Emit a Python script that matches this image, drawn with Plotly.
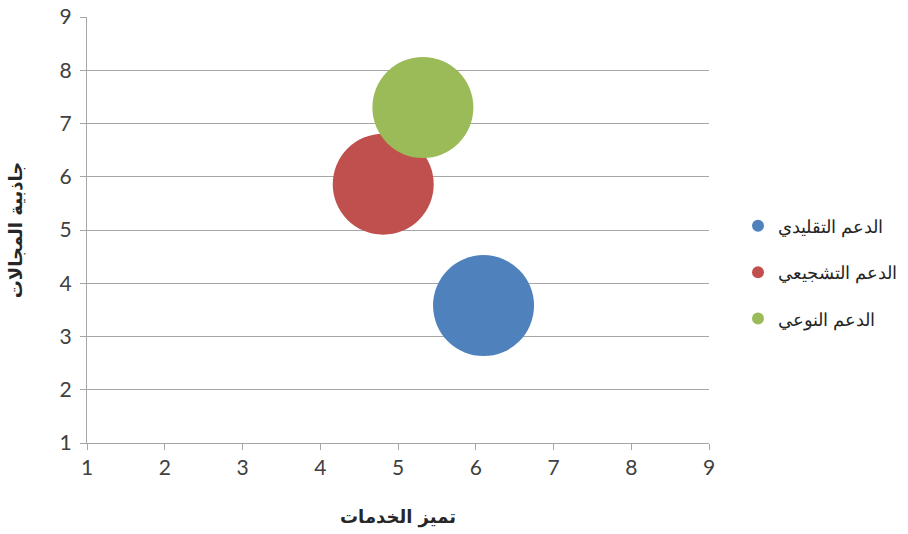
import plotly.graph_objects as go

series_names = ["الدعم التقليدي", "الدعم التشجيعي", "الدعم النوعي"]
x_values = [6.1, 4.81, 5.32]
y_values = [3.58, 5.86, 7.3]
bubble_sizes = [1.0, 1.0, 1.0]
colors = ["#4F81BD", "#C0504D", "#9BBB59"]
tick_vals = [1, 2, 3, 4, 5, 6, 7, 8, 9]
x_title = "تميز الخدمات"
y_title = "جاذبية المجالات"

max_px = 101
sizeref = max(bubble_sizes) / max_px

fig = go.Figure()
for name, xv, yv, s, c in zip(series_names, x_values, y_values, bubble_sizes, colors):
    fig.add_trace(go.Scatter(
        x=[xv], y=[yv], mode="markers", name=name, legendgroup=name,
        marker=dict(size=[s], sizemode="diameter", sizeref=sizeref, color=c,
                    line=dict(width=0), opacity=1),
    ))

font_family = "Lato, 'Liberation Sans', Arial, sans-serif"
axis_common = dict(
    range=[1, 9], tickvals=tick_vals, gridcolor="#A6A6A6", gridwidth=1,
    showline=True, linecolor="#A6A6A6", linewidth=1, ticks="outside", ticklen=6,
    tickcolor="#A6A6A6", zeroline=False, automargin=False,
    tickfont=dict(size=21, color="#404040", family=font_family),
)
fig.update_layout(
    width=908, height=534,
    margin=dict(l=87, r=1, t=17, b=91, autoexpand=False),
    paper_bgcolor="white", plot_bgcolor="white",
    xaxis=dict(**axis_common, showgrid=False, domain=[0, 622 / 820],
               title=dict(text=x_title, font=dict(size=18, color="#262626", family="'DejaVu Sans', Arial", weight="bold"), standoff=32)),
    yaxis=dict(**axis_common, showgrid=True, ticklabelstandoff=4,
               title=dict(text=y_title, font=dict(size=18, color="#262626", family="'DejaVu Sans', Arial", weight="bold"), standoff=32)),
    legend=dict(x=(738 - 87) / 820, y=0.40, xanchor="left", yanchor="middle",
                font=dict(size=18, color="#262626", family="'Liberation Sans', Arial"),
                itemsizing="constant", tracegroupgap=20, bgcolor="rgba(0,0,0,0)"),
    showlegend=True,
)
fig.write_html("out.html")
